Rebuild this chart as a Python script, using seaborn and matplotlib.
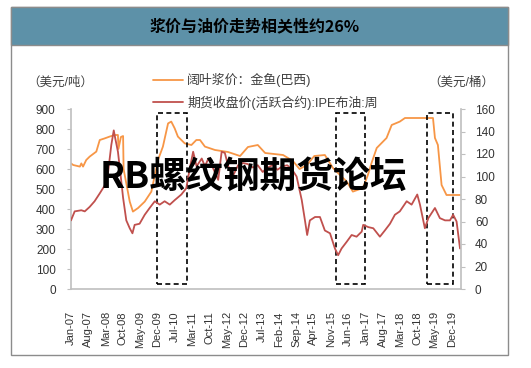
import numpy as np
import pandas as pd
import seaborn as sns
import matplotlib.pyplot as plt
from matplotlib.patches import Rectangle

########################################################################
# Data, x = months since Jan-2007

month_pulp = [0, 0.9, 3.6, 4.2, 4.9, 6.2, 7.6, 10.3, 11.7, 13.7, 15.7, 17.8, 19.1, 19.3, 20.3, 21.2, 21.4,
              23.9, 25.2, 27.3, 30, 32.7, 35.4, 37.4, 39.5, 40.8, 42.2, 43.5, 46.3, 49, 51, 52.5, 54.5,
              58.6, 63.9, 68.8, 72, 76, 79, 86.3, 90.3, 93, 96, 99, 103.3, 106.6, 112.2, 114.7, 118.8,
              120.8, 122.3, 124.4, 128.4, 130.5, 133.8, 135.9, 147.3, 148.1, 149.3, 150.8, 152.8, 158.3]
pulp_price = [628, 620, 612, 628, 612, 645, 662, 687, 745, 753, 762, 770, 770, 700, 760, 765, 600,
              437, 387, 405, 437, 487, 645, 712, 828, 837, 803, 762, 728, 720, 745, 745, 712,
              695, 685, 665, 710, 720, 680, 670, 640, 600, 620, 665, 670, 605, 537, 487, 505,
              570, 630, 705, 755, 820, 837, 855, 855, 755, 720, 520, 470, 470]

month_brent = [0, 1.5, 4.2, 5.6, 7.6, 9.6, 11.7, 13.7, 15.1, 16.4, 17.4, 18.0, 19.1, 20.2, 21.2, 22.5,
               23.9, 25.0, 25.9, 27.9, 30, 32, 34.1, 36.1, 38.1, 40.2, 42.2, 44.9, 46.9, 48.4, 49.7,
               51.1, 53.2, 54.5, 55.9, 57.9, 59.9, 61.3, 62.6, 64, 66, 68, 70, 72, 74, 76, 78, 80, 82,
               84, 86, 88, 90, 91.8, 93.9, 95.2, 96.1, 97.2, 99.3, 101.3, 103.3, 105.4, 107.4, 108.7,
               110.1, 112.2, 114.2, 116.2, 118.3, 118.9, 121, 123, 125.7, 127.7, 129.8, 131.8, 133.8,
               136.6, 138.6, 140.9, 142, 144, 145.4, 148.1, 150.1, 152.2, 154.2, 155.5, 156.9, 158.3]
brent_price = [61, 69, 70, 69, 73, 78, 85, 92, 104, 128, 141, 134, 122, 101, 81, 61,
               54, 49.5, 57, 58, 66, 72, 78, 75, 78, 75, 79, 84, 89.5, 108, 122,
               109, 116, 109, 116, 107, 97, 122, 121, 109, 101, 110, 112, 111, 108, 110, 104, 108, 110,
               106, 109, 110, 106, 100, 79, 61, 48, 61, 64, 64, 52, 49.5, 36, 30,
               36, 42, 48, 46.5, 51, 57, 55, 54, 46.5, 52, 58, 66, 69,
               78, 75, 84, 75, 54, 63, 72, 63, 61, 61, 66, 60, 36]

tick_labels = ['Jan-07', 'Aug-07', 'Mar-08', 'Oct-08', 'May-09', 'Dec-09', 'Jul-10', 'Mar-11',
               'Oct-11', 'May-12', 'Dec-12', 'Jul-13', 'Feb-14', 'Sep-14', 'Apr-15', 'Nov-15',
               'Jun-16', 'Jan-17', 'Aug-17', 'Mar-18', 'Oct-18', 'May-19', 'Dec-19']

# highlighted periods (months since Jan-2007)
box_starts = [35.1, 107.8, 144.7]
box_ends = [47.1, 119.6, 155.5]

label_pulp = '阔叶浆价：金鱼(巴西)'
label_brent = '期货收盘价(活跃合约):IPE布油:周'

########################################################################
# Plotting

sns.set_style('white')
plt.rcParams['font.family'] = ['Liberation Sans', 'Noto Sans CJK SC']

W, H = 531, 368
fig = plt.figure(figsize=(W / 100, H / 100), dpi=100)

# outer frame and title band
fig.patches.append(Rectangle((11 / W, 1 - 355 / H), 497 / W, 348 / H, transform=fig.transFigure,
                             facecolor='none', edgecolor='#8c8c8c', lw=1, zorder=0))
fig.patches.append(Rectangle((11 / W, 1 - 45 / H), 497 / W, 38 / H, transform=fig.transFigure,
                             facecolor='#5d91a8', edgecolor='#8c8c8c', lw=1, zorder=1))
fig.text(255 / W, 1 - 26 / H, '浆价与油价走势相关性约26%', ha='center', va='center',
         fontsize=11.5, fontweight='bold', color='black', family=['Noto Sans CJK SC', 'DejaVu Sans'])

ax = fig.add_axes([71 / W, 1 - 289 / H, 390 / W, 180 / H])
ax.patch.set_alpha(0)
sns.lineplot(x=month_pulp, y=pulp_price, ax=ax, color='#f79646', lw=1.3, legend=False)
ax2 = ax.twinx()
ax2.patch.set_alpha(0)
sns.lineplot(x=month_brent, y=brent_price, ax=ax2, color='#c0504d', lw=1.3, legend=False)

ax.set_xlim(0, 158.7)
ax.set_ylim(0, 900)
ax2.set_ylim(0, 160)
ax.set_yticks(np.arange(0, 901, 100))
ax2.set_yticks(np.arange(0, 161, 20))
ax.set_xticks(np.linspace(0, 155, len(tick_labels)))
ax.set_xticklabels(tick_labels, rotation=90)
ax.set_xlabel('')
ax.set_ylabel('')
ax2.set_ylabel('')

spine_col = '#bfbfbf'
for a in (ax, ax2):
    for s in a.spines.values():
        s.set_color(spine_col)
        s.set_linewidth(1.2)
    a.spines['top'].set_visible(False)
ax.spines['right'].set_visible(False)
ax2.spines['left'].set_visible(False)
ax2.spines['bottom'].set_visible(False)

ax.tick_params(axis='x', direction='in', length=4, color=spine_col, pad=16, labelsize=8, labelcolor='#333333')
ax.tick_params(axis='y', direction='out', length=3, color=spine_col, pad=8, labelsize=8.5, labelcolor='#333333', left=True)
ax2.tick_params(axis='y', direction='out', length=3, color=spine_col, pad=7, labelsize=8.5, labelcolor='#333333', right=True)

# dashed boxes marking the periods
for x0, x1 in zip(box_starts, box_ends):
    ax.add_patch(Rectangle((x0, 25), x1 - x0, 855, fill=False, edgecolor='black',
                           lw=1.2, ls=(0, (3, 2)), zorder=5))

# unit labels
fig.text(60 / W, 1 - 83 / H, '（美元/吨）', ha='center', va='center', fontsize=9, color='#404040')
fig.text(461 / W, 1 - 83 / H, '（美元/桶）', ha='center', va='center', fontsize=9, color='#404040')

# legend
fig.legend([ax.lines[0], ax2.lines[0]], [label_pulp, label_brent], loc='upper left',
           bbox_to_anchor=(147 / W, 1 - 67 / H), frameon=False, fontsize=9.3, labelspacing=0.6,
           handlelength=2.3, handletextpad=0.3, borderpad=0, labelcolor='#404040')

# watermark
fig.text(253 / W, 1 - 177 / H, 'RB螺纹钢期货论坛', ha='center', va='center', fontsize=26.5,
         fontweight='bold', color='black', zorder=20, family=['Noto Sans CJK SC', 'DejaVu Sans'])

plt.savefig('out.png', dpi=100)
plt.close(fig)
